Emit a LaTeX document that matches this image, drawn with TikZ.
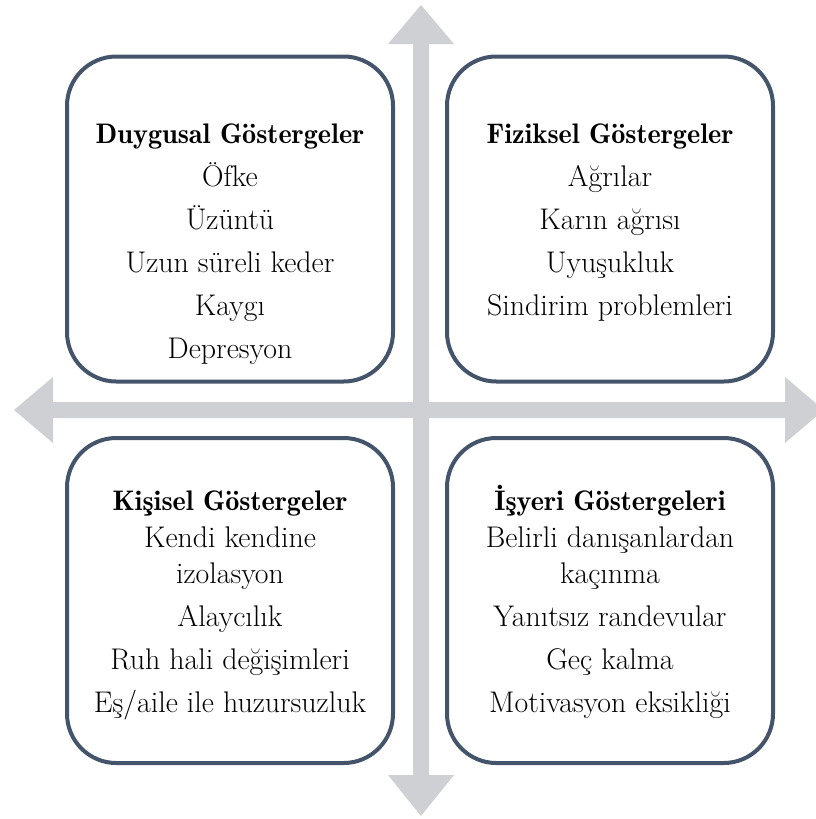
\documentclass[tikz,border=0pt]{standalone}
\usepackage{fontspec}
\newfontfamily\titlefont{lmromandemi10-regular}[Extension=.otf]
\definecolor{boxline}{HTML}{44546A}
\definecolor{crossgray}{HTML}{CFD0D4}
\begin{document}
\begin{tikzpicture}[x=0.75pt,y=-0.75pt,
  panel/.style={draw=boxline,line width=3pt,fill=white,rounded corners=37pt,
    minimum width=326*0.75pt,minimum height=325*0.75pt,inner sep=0pt},
  txt/.style={anchor=base,inner sep=0pt,font=\fontsize{22.4}{26}\selectfont},
  ttl/.style={txt,font=\titlefont\fontsize{21.2}{26}\selectfont}]
\useasboundingbox (0,0) rectangle (816,819);
\begin{scope}
\clip (0,0) rectangle (816,819);
% double-headed cross behind the four panels
\fill[crossgray] (421,5) -- (454,44) -- (429,44) -- (429,775) -- (454,775)
  -- (421,816) -- (388,775) -- (413,775) -- (413,44) -- (388,44) -- cycle;
\fill[crossgray] (14,410) -- (53,377) -- (53,402) -- (785,402) -- (785,377)
  -- (824,410) -- (785,443) -- (785,418) -- (53,418) -- (53,443) -- cycle;
\end{scope}
% panels
\node[panel] (emo) at (230,219) {};
\node[panel] (phy) at (610,219) {};
\node[panel] (per) at (230,600.5) {};
\node[panel] (work) at (610,600.5) {};
% emotional indicators
\node[ttl] (emo0) at (230,143) {Duygusal Göstergeler};
\node[txt] (emo1) at (230,186) {Öfke};
\node[txt] (emo2) at (230,229) {Üzüntü};
\node[txt] (emo3) at (230,272) {Uzun süreli keder};
\node[txt] (emo4) at (230,315) {Kaygı};
\node[txt] (emo5) at (230,358) {Depresyon};
% physical indicators
\node[ttl] (phy0) at (610,143) {Fiziksel Göstergeler};
\node[txt] (phy1) at (610,186) {Ağrılar};
\node[txt] (phy2) at (610,229) {Karın ağrısı};
\node[txt] (phy3) at (610,272) {Uyuşukluk};
\node[txt] (phy4) at (610,315) {Sindirim problemleri};
% personal indicators
\node[ttl] (per0) at (230,510) {Kişisel Göstergeler};
\node[txt] (per1) at (230,547) {Kendi kendine};
\node[txt] (per2) at (230,583) {izolasyon};
\node[txt] (per3) at (230,626) {Alaycılık};
\node[txt] (per4) at (230,669) {Ruh hali değişimleri};
\node[txt] (per5) at (230,712) {Eş/aile ile huzursuzluk};
% workplace indicators
\node[ttl] (work0) at (610,510) {İşyeri Göstergeleri};
\node[txt] (work1) at (610,547) {Belirli danışanlardan};
\node[txt] (work2) at (610,583) {kaçınma};
\node[txt] (work3) at (610,626) {Yanıtsız randevular};
\node[txt] (work4) at (610,669) {Geç kalma};
\node[txt] (work5) at (610,712) {Motivasyon eksikliği};
\end{tikzpicture}
\end{document}
